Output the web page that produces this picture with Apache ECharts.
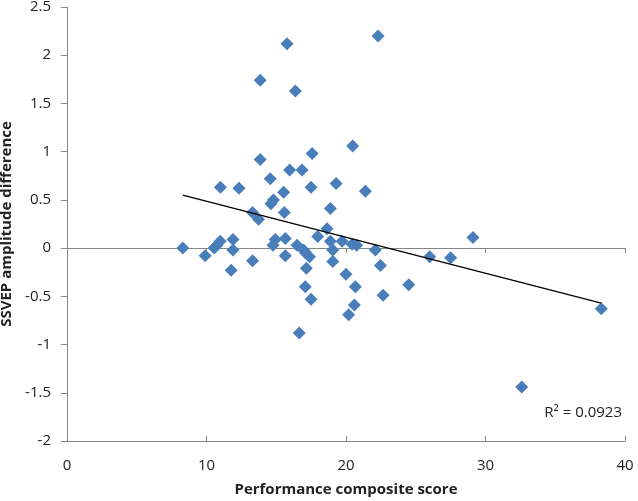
<!DOCTYPE html>
<html><head><meta charset="utf-8">
<script src="https://cdn.jsdelivr.net/npm/echarts@6/dist/echarts.min.js"></script>
<style>html,body{margin:0;padding:0;background:#fff}#c{width:638px;height:501px}</style>
</head><body><div id="c"></div>
<script>
// Performance composite score (x)
const scoreX = [8.3, 9.9, 10.55, 10.75, 10.98, 11.0, 11.9, 11.9, 11.77, 12.33,
  13.3, 13.3, 13.73, 13.85, 13.85, 14.57, 14.8, 14.62, 14.93, 14.77,
  15.53, 15.58, 15.65, 15.65, 15.77, 15.96, 16.37, 16.85, 16.49, 16.96,
  17.39, 17.16, 17.08, 17.49, 16.65, 17.49, 17.57, 17.97, 18.64, 18.88,
  18.88, 19.05, 19.05, 19.29, 19.72, 20.0, 20.44, 20.76, 20.48, 20.67,
  20.6, 20.19, 21.39, 22.1, 22.3, 22.47, 22.66, 24.5, 26.0, 27.5,
  29.1, 32.6, 38.3, 17.1];
// SSVEP amplitude difference (y)
const ampY = [0.00, -0.08, 0.00, 0.03, 0.07, 0.63, 0.09, -0.02, -0.23, 0.62,
  -0.13, 0.37, 0.30, 0.92, 1.74, 0.72, 0.50, 0.46, 0.09, 0.03,
  0.58, 0.37, 0.10, -0.08, 2.12, 0.81, 1.63, 0.81, 0.03, -0.02,
  -0.09, -0.21, -0.40, -0.53, -0.88, 0.63, 0.98, 0.12, 0.20, 0.41,
  0.07, -0.02, -0.14, 0.67, 0.07, -0.27, 0.04, 0.03, 1.06, -0.40,
  -0.59, -0.69, 0.59, -0.02, 2.20, -0.18, -0.49, -0.38, -0.09, -0.10,
  0.11, -1.44, -0.63, -0.05];
// Linear trendline end points
const trendX = [8.3, 38.3];
const trendY = [0.55, -0.57];
const rSquaredText = 'R² = 0.0923';
const xTitle = 'Performance composite score';
const yTitle = 'SSVEP amplitude difference';

const points = scoreX.map((x, i) => [x, ampY[i]]);
const trend = trendX.map((x, i) => [x, trendY[i]]);
const axisColor = '#868686';
const font = 'Open Sans';

const chart = echarts.init(document.getElementById('c'), null, {renderer: 'canvas'});
chart.setOption({
  animation: false,
  backgroundColor: '#fff',
  grid: {left: 67, right: 13, top: 7, bottom: 60, containLabel: false, outerBoundsMode: 'none'},
  xAxis: [
    {
      type: 'value', min: 0, max: 40, interval: 10, position: 'bottom',
      axisLine: {show: true, onZero: true, lineStyle: {color: axisColor, width: 1}},
      axisTick: {show: true, inside: false, length: 5, lineStyle: {color: axisColor}},
      axisLabel: {show: false},
      splitLine: {show: false}
    },
    {
      type: 'value', min: 0, max: 40, interval: 10, position: 'bottom',
      axisLine: {show: true, onZero: false, lineStyle: {color: axisColor, width: 1}},
      axisTick: {show: true, inside: true, length: 5, lineStyle: {color: axisColor}},
      axisLabel: {show: true, margin: 17, color: '#222', fontSize: 15, fontFamily: font},
      splitLine: {show: false},
      name: xTitle, nameLocation: 'middle', nameGap: 41,
      nameTextStyle: {color: '#222', fontSize: 15, fontWeight: 'bold', fontFamily: font}
    }
  ],
  yAxis: {
    type: 'value', min: -2, max: 2.5, interval: 0.5,
    axisLine: {show: true, onZero: false, lineStyle: {color: axisColor, width: 1}},
    axisTick: {show: true, inside: false, length: 6, lineStyle: {color: axisColor}},
    axisLabel: {show: true, margin: 16, color: '#222', fontSize: 15, fontFamily: font},
    splitLine: {show: false},
    name: yTitle, nameLocation: 'middle', nameGap: 49, nameRotate: 90,
    nameTextStyle: {color: '#222', fontSize: 15, fontWeight: 'bold', fontFamily: font}
  },
  series: [
    {
      type: 'scatter', xAxisIndex: 0, data: points,
      symbol: 'diamond', symbolSize: 13,
      itemStyle: {color: '#4A7EBB', opacity: 1}
    },
    {
      type: 'line', xAxisIndex: 0, data: trend, symbol: 'none',
      lineStyle: {color: '#000', width: 1.3}, z: 3
    }
  ],
  graphic: [{
    type: 'text', right: 16, top: 405,
    style: {text: rSquaredText, fill: '#222', font: '15px "Open Sans"'}
  }]
});
</script></body></html>
